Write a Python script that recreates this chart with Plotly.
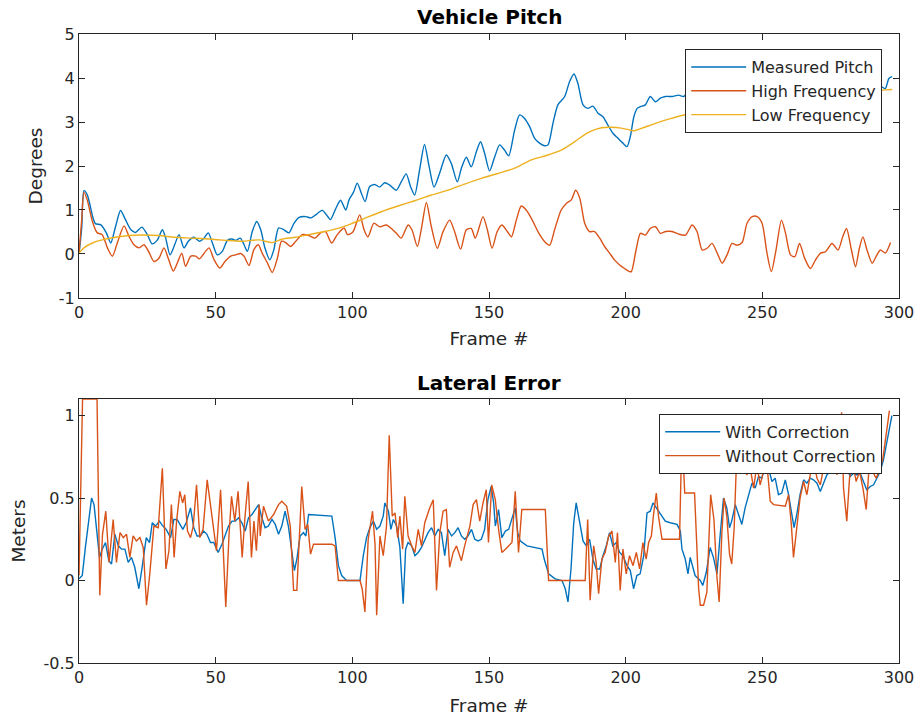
import plotly.graph_objects as go

# ---------------- Vehicle Pitch data ----------------
measured_frames = [0, 1, 1.8, 3, 5, 6, 8, 10, 11.6, 13.4, 15.2, 17, 19, 20.7, 23, 25, 26.8, 28.7, 30.5, 31.7,
    33.3, 35, 36.6, 38.4, 40, 42, 44, 45.7, 47.3, 48.8, 50.6, 52.4, 54.3, 56, 57.3, 59, 60.4, 61.6, 63.4, 65,
    66.5, 68, 69.8, 71.3, 73, 75, 76.8, 78.7, 80.5, 83, 84.8, 86.6, 89, 91, 92, 94, 95.7, 97.6, 98.8, 100.4,
    101.8, 103.3, 104.7, 106.3, 108.2, 110, 111.8, 113.6, 116.1, 117.9, 119.7, 121.3, 122.8, 124.6, 126.4, 128, 129.9, 131.9, 134.4, 136.2,
    138.4, 139.9, 141.7, 143.5, 145.4, 146.9, 148.4, 150.2, 152.1, 153.9, 155.7, 157.2, 159.4, 161.2, 163, 164.9, 166.7, 168.5, 170.3, 171.6,
    173.4, 175.2, 177.7, 179.5, 181.1, 182.5, 184.4, 186.2, 188, 189.9, 191.7, 193.5, 195.4, 197.2, 199, 200.5, 201.7, 203, 204.2, 205.4,
    207.2, 209, 210.9, 212.7, 214.6, 217, 219.4, 221.3, 224.3, 226.1, 228, 229.8, 231.6, 233.5, 235.3, 237.1, 238.9, 240.8,
    242.6, 244.4, 246.3, 248.1, 249.9, 251.7, 253.3, 255, 257, 258.5, 260.3, 261.9, 263.6, 265.5, 267.6, 269.4, 271.3, 273.1,
    275.5, 277.7, 279.4, 280.8, 282.6, 284.1, 285.5, 286.8, 288.3, 290.2, 291.6, 293.2, 295, 296.3, 297.5]
measured_pitch = [0.0, 0.6, 1.44, 1.35, 0.85, 0.69, 0.66, 0.48, 0.25, 0.63, 0.99, 0.78, 0.55, 0.49, 0.61, 0.44, 0.23, 0.32, 0.55, 0.36,
    -0.02, 0.21, 0.44, 0.14, 0.29, 0.38, 0.29, 0.36, 0.48, 0.25, -0.02, 0.06, 0.31, 0.34, 0.31, 0.36, 0.21, 0.06, 0.51, 0.74,
    0.55, 0.14, -0.13, 0.1, 0.59, 0.55, 0.48, 0.70, 0.83, 0.85, 0.82, 0.89, 0.99, 0.85, 0.78, 1.04, 1.22, 1.0, 1.23, 1.4,
    1.61, 1.38, 1.19, 1.53, 1.58, 1.52, 1.62, 1.57, 1.45, 1.64, 1.82, 1.53, 1.34, 1.91, 2.49, 2.02, 1.52, 1.83, 2.25, 2.06,
    1.64, 1.95, 2.2, 1.98, 2.33, 2.55, 2.29, 1.89, 2.21, 2.48, 2.36, 2.23, 2.82, 3.16, 3.08, 2.89, 2.63, 2.52, 2.46, 2.48,
    2.97, 3.39, 3.58, 3.92, 4.09, 3.88, 3.39, 3.31, 3.36, 3.2, 3.12, 2.93, 2.74, 2.63, 2.52, 2.44, 2.67, 3.12, 3.31, 3.35,
    3.39, 3.58, 3.46, 3.54, 3.58, 3.58, 3.61, 3.58, 3.84, 3.71, 3.31, 3.36, 3.48, 3.28, 3.06, 3.27, 3.54, 3.52,
    3.6, 4.06, 4.22, 4.24, 4.11, 3.45, 3.04, 3.55, 4.25, 3.96, 3.48, 3.45, 3.77, 3.44, 3.23, 3.44, 3.61, 3.66,
    3.86, 3.73, 4.04, 4.24, 3.76, 3.39, 3.81, 4.08, 3.79, 3.5, 3.66, 3.81, 3.76, 3.99, 4.03]

high_frames = [0, 1, 1.8, 3, 4.9, 6.7, 8.5, 10.4, 12.2, 14, 16.5, 18.3, 20.1, 22, 23.8, 25.6, 27.4, 29.3, 31.1, 32.7,
    34.5, 36, 37.6, 39, 40.9, 42.7, 44.1, 46.3, 47.6, 49.4, 51.5, 53.4, 55.5, 57.3, 59.1, 60.4, 62.2, 64, 65.6, 67,
    68.9, 70.7, 72.6, 74.1, 75.6, 77.4, 79.3, 81.7, 84.1, 86.3, 88.4, 90.2, 92.4, 94.5, 97, 98.2, 100.2, 102.7, 104.3, 105.7,
    107.9, 110, 112.4, 114.3, 116.1, 117.9, 120.4, 121.8, 123.8, 125.2, 127.1, 128.9, 131.1, 133.2, 135.6, 137.4, 139.6, 141.7, 143.5, 145,
    147.8, 149.4, 151.1, 153, 154.7, 156.7, 158.2, 160, 161.8, 163.6, 165.5, 167.9, 170.4, 172.2, 174, 176.4, 178.3, 180.1, 181.7, 183.2,
    185, 186.8, 188.6, 190.5, 192.3, 194.1, 196, 197.8, 199.6, 201.4, 202.1, 203.8, 205.4, 207.2, 209, 210.9, 212.7, 214.6, 217, 219.4,
    221.9, 224.3, 226.1, 228, 229.8, 231.6, 233.5, 235.3, 237.1, 238.9, 240.8, 242.6, 244.4, 246.3, 248.1, 249.9, 251.7, 253.3, 255, 257,
    258.5, 260.3, 261.9, 263.6, 265.5, 267.6, 269.4, 271.3, 273.1, 275.5, 277.7, 279.4, 280.8, 282.6, 284.1, 285.5, 286.8, 288.3, 290.2, 291.6,
    293.2, 295, 296.9]
high_frequency = [0.02, 0.78, 1.4, 1.23, 0.74, 0.48, 0.44, 0.14, -0.05, 0.25, 0.64, 0.4, 0.21, 0.14, 0.21, 0.04, -0.17, -0.09, 0.14, -0.11,
    -0.39, -0.2, 0.02, -0.28, -0.05, -0.05, -0.11, 0.06, 0.14, -0.13, -0.32, -0.17, -0.05, -0.02, 0.01, -0.05, -0.26, 0.1, 0.21, 0.02,
    -0.2, -0.42, -0.09, 0.29, 0.26, 0.17, 0.29, 0.44, 0.42, 0.36, 0.48, 0.51, 0.25, 0.44, 0.59, 0.44, 0.5, 0.89, 0.55, 0.39,
    0.7, 0.62, 0.66, 0.58, 0.47, 0.36, 0.66, 0.55, 0.17, 0.55, 1.17, 0.62, 0.13, 0.51, 0.77, 0.51, 0.11, 0.55, 0.58, 0.36,
    0.85, 0.55, 0.13, 0.51, 0.66, 0.51, 0.39, 0.77, 1.09, 1.0, 0.81, 0.51, 0.28, 0.2, 0.55, 1.0, 1.15, 1.23, 1.45, 1.27,
    0.7, 0.51, 0.51, 0.36, 0.17, 0.02, -0.14, -0.25, -0.33, -0.4, -0.4, 0.09, 0.47, 0.43, 0.58, 0.62, 0.47, 0.51, 0.51, 0.45,
    0.43, 0.66, 0.51, 0.09, 0.13, 0.24, 0.02, -0.21, -0.02, 0.24, 0.2, 0.26, 0.7, 0.85, 0.85, 0.7, 0.02, -0.4, 0.09, 0.77,
    0.47, -0.02, -0.06, 0.24, -0.1, -0.33, -0.14, 0.02, 0.05, 0.24, 0.09, 0.39, 0.58, 0.09, -0.29, 0.13, 0.39, 0.09, -0.21, -0.06,
    0.09, 0.02, 0.26]

low_frames = [0, 1.8, 4.9, 8.5, 13.4, 18.3, 23, 29, 35, 41.5, 47.6, 53.7, 59.8, 65.9, 70.7, 74.4, 79.3, 84, 90, 96.3,
    100.5, 104.5, 110.6, 116.7, 122.8, 128.9, 135, 141.1, 147.2, 153.3, 159.4, 165.5, 171.6, 176.4, 181.3, 186.2, 191.1, 194.7, 198.4, 201.4,
    203, 206, 210.9, 216, 221.3, 226, 230, 235, 240, 245, 250, 255, 260, 265, 270, 275, 280, 285, 290, 295, 297.5]
low_frequency = [0.02, 0.14, 0.25, 0.32, 0.38, 0.42, 0.43, 0.42, 0.38, 0.36, 0.34, 0.31, 0.29, 0.32, 0.26, 0.34, 0.38, 0.44, 0.51, 0.61,
    0.71, 0.81, 0.96, 1.09, 1.21, 1.34, 1.45, 1.59, 1.72, 1.83, 1.95, 2.14, 2.25, 2.36, 2.55, 2.76, 2.87, 2.88, 2.86, 2.82,
    2.8, 2.86, 2.97, 3.07, 3.16, 3.2, 3.23, 3.27, 3.31, 3.36, 3.41, 3.46, 3.5, 3.54, 3.58, 3.62, 3.65, 3.68, 3.71, 3.73, 3.74]

# ---------------- Lateral Error data ----------------
with_frames = [0, 1.2, 2.4, 3.6, 4.6, 5.5, 6.7, 7.5, 8.5, 9.7, 10.9, 11.9, 13.1, 14.4, 15.6, 16.8, 18, 19.2, 20.4, 21.9,
    23.1, 24.6, 25.8, 26.8, 28, 29.4, 30.7, 31.9, 33.5, 34.7, 35.9, 37.1, 38, 39.2, 40.8, 42, 43.2, 44.4, 45.6, 46.8,
    48.1, 49.3, 50.9, 52.3, 53.5, 54.7, 56, 57.2, 58.4, 59.6, 60.8, 62, 63.3, 64.5, 65.7, 66.9, 68.1, 69.3, 70.6, 71.8,
    73, 74.2, 75.4, 76.6, 77.9, 78.8, 79.7, 80.9, 82.1, 83, 84, 92.5, 93.7, 94.9, 96.1, 97.9, 102.8, 104, 105.2, 106.4,
    107.7, 108.9, 110.1, 111.3, 111.9, 113.2, 114.1, 115, 116.2, 117.4, 118.6, 119.5, 120.4, 121.7, 122.9, 124.1, 125.3, 126.5, 127.7, 129,
    130.2, 131.4, 132.6, 133.8, 135, 136.3, 137.5, 138.7, 139.9, 141.1, 142.3, 143.6, 144.8, 146, 147.2, 148.4, 149.6, 150.8, 151.7, 152.3,
    153.5, 154.7, 156, 157.2, 158.4, 159.6, 160.5, 161.4, 163.9, 166.3, 169.4, 170.2, 171.8, 174.2, 176.7, 177.9, 178.9, 180, 181, 181.9,
    183.1, 184.4, 185.6, 186.8, 188, 189.2, 190.5, 191.7, 192.9, 194.1, 195.3, 196.6, 197.8, 199, 200.5, 201.7, 202.9, 204.1, 205.3, 206.6,
    207.8, 209, 210, 211.2, 212.7, 214.5, 216.3, 218.8, 220, 220.6, 221.8, 222.8, 223.6, 225.4, 227.3, 228.2, 229.5, 230.9, 232.1, 233.4,
    234.6, 235.8, 237, 238, 238.8, 240.1, 241.3, 242.5, 243.7, 245, 246.2, 247.4, 248.6, 249.8, 251, 252.3, 253.5, 254.7, 255.9, 257.1,
    258.4, 259.6, 260.8, 261.6, 262.6, 263.8, 265.1, 266.3, 267.5, 268.7, 270, 271.2, 272.4, 273.6, 274.8, 276, 277.3, 278.5, 279.7, 280.9,
    282.1, 283.4, 284.6, 285.8, 287, 288.2, 289.5, 290.7, 291.9, 293.1, 294.3, 295.6, 296.8, 297.4]
with_correction = [0.01, 0.03, 0.21, 0.39, 0.5, 0.46, 0.29, 0.14, 0.19, 0.23, 0.12, 0.1, 0.28, 0.21, 0.19, 0.19, 0.11, 0.14, 0.08, -0.05,
    0.08, 0.26, 0.23, 0.35, 0.33, 0.36, 0.33, 0.31, 0.26, 0.37, 0.37, 0.34, 0.31, 0.35, 0.44, 0.32, 0.27, 0.27, 0.3, 0.28,
    0.23, 0.23, 0.17, 0.22, 0.27, 0.33, 0.36, 0.36, 0.38, 0.35, 0.3, 0.38, 0.4, 0.43, 0.46, 0.38, 0.32, 0.33, 0.37, 0.34,
    0.28, 0.33, 0.42, 0.33, 0.15, 0.06, 0.13, 0.27, 0.29, 0.27, 0.4, 0.39, 0.26, 0.09, 0.03, 0.0, 0.0, 0.15, 0.26, 0.32,
    0.36, 0.31, 0.33, 0.39, 0.47, 0.42, 0.31, 0.37, 0.33, 0.2, -0.14, 0.19, 0.23, 0.21, 0.15, 0.17, 0.2, 0.24, 0.29, 0.32,
    0.27, 0.31, 0.29, 0.15, 0.31, 0.27, 0.29, 0.32, 0.27, 0.25, 0.27, 0.31, 0.25, 0.24, 0.25, 0.31, 0.49, 0.57, 0.47, 0.33,
    0.43, 0.26, 0.3, 0.31, 0.37, 0.44, 0.29, 0.24, 0.21, 0.2, 0.19, 0.13, 0.04, 0.01, 0.0, -0.05, -0.13, 0.07, 0.35, 0.47,
    0.35, 0.24, 0.21, 0.25, 0.13, 0.07, 0.07, 0.15, 0.21, 0.29, 0.21, 0.23, 0.17, 0.15, 0.09, 0.06, -0.05, 0.03, 0.04, 0.15,
    0.41, 0.42, 0.47, 0.44, 0.41, 0.36, 0.35, 0.34, 0.3, 0.19, 0.13, 0.04, 0.14, 0.03, 0.0, -0.03, 0.05, 0.2, 0.14, 0.04,
    0.28, 0.5, 0.44, 0.32, 0.36, 0.46, 0.4, 0.34, 0.44, 0.52, 0.59, 0.56, 0.63, 0.62, 0.69, 0.68, 0.6, 0.62, 0.52, 0.53,
    0.61, 0.52, 0.4, 0.32, 0.4, 0.52, 0.61, 0.59, 0.62, 0.61, 0.59, 0.54, 0.59, 0.64, 0.66, 0.69, 0.71, 0.72, 0.66, 0.69,
    0.63, 0.65, 0.64, 0.65, 0.6, 0.55, 0.57, 0.58, 0.62, 0.66, 0.73, 0.84, 0.96, 1.0]

without_frames = [0, 1.3, 6.6, 7.6, 8.6, 9.8, 11, 12.5, 13.7, 15, 16.2, 17.4, 18.6, 19.8, 21, 22.3, 23.5, 24.7, 25.9, 27.4,
    29, 30.5, 31.8, 32.9, 33.8, 34.8, 35.7, 36.9, 37.9, 38.7, 39.7, 40.8, 41.8, 43, 44.2, 45.4, 46.9, 48.5, 50.3, 51.8,
    52.8, 53.7, 54.9, 55.8, 57, 58.2, 59.7, 60.7, 61.9, 63.1, 64, 64.9, 65.9, 66.3, 67.5, 69.3, 71.2, 73, 74.2, 76,
    77.3, 78.5, 79.7, 80.5, 81.5, 82.7, 83.7, 84.7, 85.8, 92.5, 93.7, 94.9, 102.8, 103.6, 104.6, 105.8, 107.4, 108.3, 108.9, 110.1,
    111.3, 112.5, 113.5, 114.6, 115.6, 116.6, 117.4, 118.4, 119.2, 120.4, 121.7, 122.9, 124.1, 125.3, 126.5, 128.3, 129.6, 130.8, 132, 133.2,
    134.4, 135.6, 136.9, 138.1, 139.9, 141.1, 143, 144.2, 145.4, 146.6, 147.8, 149, 149.8, 151, 152.3, 153.5, 154.7, 156, 157.2, 158.4,
    159.6, 160.8, 162, 170.6, 171.8, 185.2, 186.1, 187, 188.3, 189.2, 190.1, 191.3, 192.5, 193.8, 195, 196.2, 197, 198, 199, 200.2,
    201.4, 202.7, 203.9, 205.1, 206.3, 207.5, 208.4, 209.4, 210.2, 211.2, 212, 213.3, 219.7, 220.6, 221.6, 225.2, 226.7, 227.3, 228.5, 229.7,
    231.1, 232.3, 233.4, 234.2, 235.2, 236, 237, 238, 238.8, 239.7, 240.7, 242, 243.1, 244.3, 245.6, 246.8, 248, 249.2, 250.4, 251.6,
    252.9, 254.1, 258.4, 259.6, 260.6, 261.4, 262.6, 263.8, 265.1, 266.3, 267.5, 268.7, 270, 271.2, 272.4, 273.6, 276, 277.3, 278.2, 279,
    279.7, 280.9, 281.9, 283.1, 284.3, 285.6, 286.8, 288, 289.2, 290.4, 291.6, 292.9, 294.1, 295.3, 296.5]
without_correction = [0.03, 1.1, 1.1, -0.09, 0.28, 0.42, 0.11, 0.37, 0.11, 0.29, 0.26, 0.28, 0.14, 0.27, 0.24, 0.26, 0.2, -0.15, 0.04, 0.33,
    0.32, 0.68, 0.07, 0.18, 0.46, 0.14, 0.36, 0.54, 0.47, 0.52, 0.3, 0.26, 0.33, 0.58, 0.26, 0.31, 0.61, 0.41, 0.18, 0.55,
    0.21, -0.16, 0.28, 0.51, 0.36, 0.54, 0.14, 0.38, 0.6, 0.14, 0.36, 0.18, 0.46, 0.27, 0.45, 0.36, 0.4, 0.46, 0.48, 0.45,
    0.33, -0.06, -0.06, 0.25, 0.57, 0.31, 0.34, 0.16, 0.22, 0.22, 0.21, 0.0, 0.0, -0.05, -0.19, 0.25, 0.42, 0.22, -0.21, 0.27,
    0.15, 0.33, 0.88, 0.39, 0.41, 0.26, 0.39, 0.19, 0.51, 0.27, 0.21, 0.17, 0.31, 0.21, 0.35, 0.44, 0.49, -0.06, 0.29, 0.42,
    0.43, 0.08, 0.17, 0.21, 0.12, 0.21, 0.33, 0.46, 0.49, 0.36, 0.47, 0.55, 0.23, 0.58, 0.49, 0.31, 0.17, 0.19, 0.21, 0.23,
    0.54, 0.17, 0.43, 0.43, 0.0, 0.0, 0.37, -0.12, 0.21, 0.11, -0.08, 0.13, 0.17, 0.27, 0.3, 0.11, 0.29, -0.06, 0.19, 0.04,
    0.15, 0.09, 0.17, 0.07, 0.23, 0.13, 0.23, 0.27, 0.4, 0.53, 0.39, 0.25, 0.25, 0.9, 0.53, 0.53, -0.05, -0.15, -0.15, -0.07,
    0.52, 0.37, 0.02, -0.13, 0.29, 0.5, 0.39, 0.16, 0.1, 0.32, 0.8, 0.9, 0.72, 0.64, 0.68, 0.56, 0.7, 0.58, 0.66, 0.72,
    0.48, 0.46, 0.45, 0.52, 0.34, 0.14, 0.32, 0.5, 0.6, 0.52, 0.64, 0.73, 0.62, 0.58, 0.68, 0.73, 0.73, 0.64, 0.8, 1.02,
    0.56, 0.36, 0.62, 0.72, 0.6, 0.66, 0.56, 0.43, 0.72, 0.66, 0.62, 0.67, 0.74, 0.88, 1.03]

# ---------------- Axis ticks ----------------
x_ticks = [0, 50, 100, 150, 200, 250, 300]
pitch_ticks = [-1, 0, 1, 2, 3, 4, 5]
pitch_tick_text = ["-1", "0", "1", "2", "3", "4", "5"]
lateral_ticks = [-0.5, 0, 0.5, 1]
lateral_tick_text = ["-0.5", "0", "0.5", "1"]

BLUE = "#0072BD"
ORANGE = "#D95319"
YELLOW = "#EDB120"
INK = "#262626"
FONT = "DejaVu Sans"

fig = go.Figure()
fig.add_trace(go.Scatter(x=measured_frames, y=measured_pitch, mode="lines", name="Measured Pitch",
                         line=dict(color=BLUE, width=1.4, shape="spline", smoothing=0.7),
                         xaxis="x", yaxis="y", legend="legend"))
fig.add_trace(go.Scatter(x=high_frames, y=high_frequency, mode="lines", name="High Frequency",
                         line=dict(color=ORANGE, width=1.4, shape="spline", smoothing=0.7),
                         xaxis="x", yaxis="y", legend="legend"))
fig.add_trace(go.Scatter(x=low_frames, y=low_frequency, mode="lines", name="Low Frequency",
                         line=dict(color=YELLOW, width=1.4, shape="spline", smoothing=0.7),
                         xaxis="x", yaxis="y", legend="legend"))
fig.add_trace(go.Scatter(x=with_frames, y=with_correction, mode="lines", name="With Correction",
                         line=dict(color=BLUE, width=1.4), xaxis="x2", yaxis="y2", legend="legend2"))
fig.add_trace(go.Scatter(x=without_frames, y=without_correction, mode="lines", name="Without Correction",
                         line=dict(color=ORANGE, width=1.4), xaxis="x2", yaxis="y2", legend="legend2"))

axis_common = dict(showline=True, linecolor=INK, linewidth=1, mirror="ticks", ticks="inside",
                   ticklen=6, tickcolor=INK, tickwidth=1, showgrid=False, zeroline=False,
                   automargin=False, tickfont=dict(family=FONT, size=16, color=INK))

title_font = dict(family=FONT, size=18.5, color=INK)
legend_font = dict(family=FONT, size=16, color=INK)

fig.update_layout(
    width=920, height=717,
    margin=dict(l=79, r=21, t=34, b=54),
    paper_bgcolor="white", plot_bgcolor="white",
    font=dict(family=FONT, color=INK),
    xaxis=dict(domain=[0, 1], range=[0, 300], tickvals=x_ticks, anchor="y",
               title=dict(text="Frame #", font=title_font, standoff=10), **axis_common),
    yaxis=dict(domain=[0.5803, 1], range=[-1, 5], tickvals=pitch_ticks, ticktext=pitch_tick_text, anchor="x",
               title=dict(text="Degrees", font=title_font, standoff=11), **axis_common),
    xaxis2=dict(domain=[0, 1], range=[0, 300], tickvals=x_ticks, anchor="y2",
                title=dict(text="Frame #", font=title_font, standoff=12), **axis_common),
    yaxis2=dict(domain=[0, 0.4197], range=[-0.5, 1.1], tickvals=lateral_ticks, ticktext=lateral_tick_text,
                anchor="x2", title=dict(text="Meters", font=title_font, standoff=13), **axis_common),
    legend=dict(x=0.9795, y=0.976, xanchor="right", yanchor="top", bgcolor="white",
                bordercolor=INK, borderwidth=1, font=legend_font,
                tracegroupgap=0, itemwidth=55),
    legend2=dict(x=0.9795, y=0.396, xanchor="right", yanchor="top", bgcolor="white",
                 bordercolor=INK, borderwidth=1, font=legend_font,
                 tracegroupgap=0, itemwidth=55),
    annotations=[
        dict(text="<b>Vehicle Pitch</b>", x=0.5, y=1.027, xref="paper", yref="paper",
             xanchor="center", yanchor="middle", showarrow=False,
             font=dict(family=FONT, size=20, color="black")),
        dict(text="<b>Lateral Error</b>", x=0.5, y=0.445, xref="paper", yref="paper",
             xanchor="center", yanchor="middle", showarrow=False,
             font=dict(family=FONT, size=20, color="black")),
    ],
)

fig.write_html("out.html")
